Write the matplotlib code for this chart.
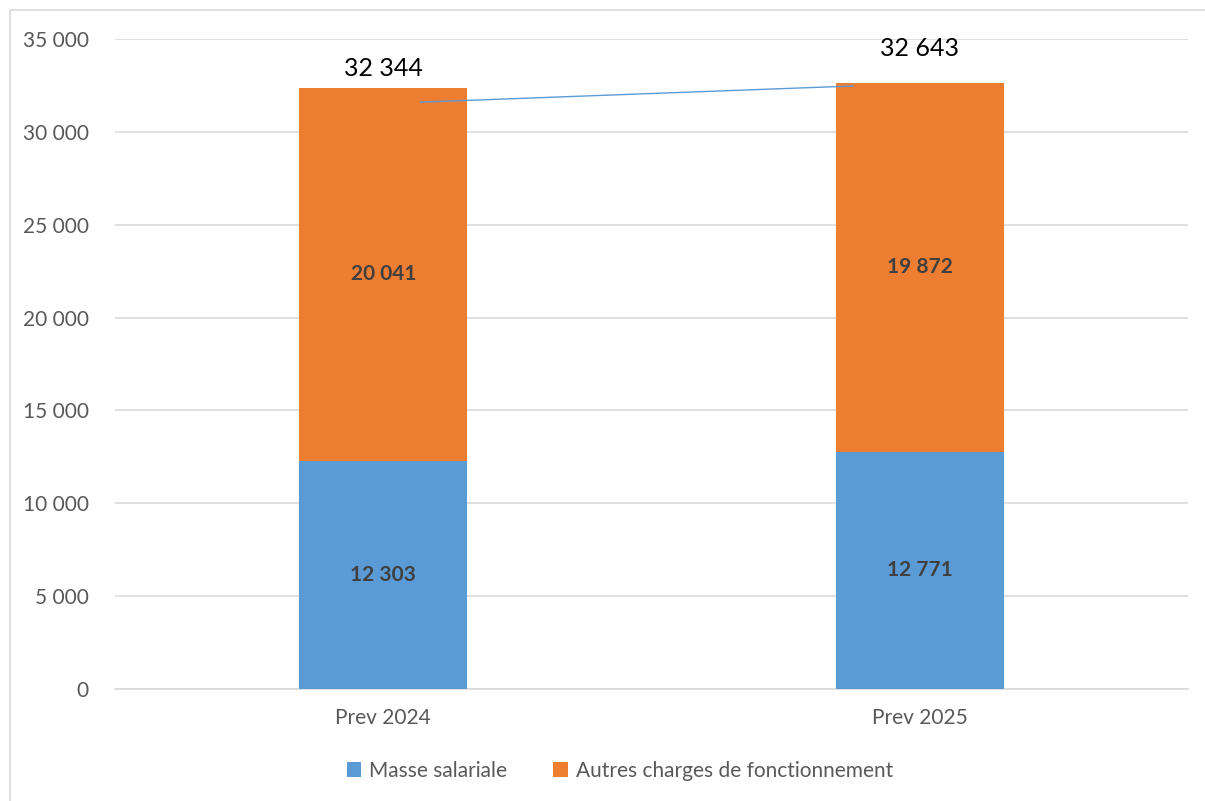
import matplotlib.pyplot as plt
from matplotlib.patches import Rectangle

categories = ["Prev 2024", "Prev 2025"]
masse_salariale = [12303, 12771]
autres_charges = [20041, 19872]
totals = [32344, 32643]
total_offsets = [20, 34]  # px above bar top, as in the source
# thin leftover line drawn across the chart (x in category units, y in data units)
line_x = [0.069, 0.876]
line_y = [31600, 32470]

blue = "#5b9bd5"
orange = "#ed7d31"
grey_txt = "#595959"

plt.rcParams['font.family'] = ['Lato', 'DejaVu Sans']

fig = plt.figure(figsize=(12.05, 8.01), dpi=100)
ax = fig.add_axes([115 / 1205, 1 - 689 / 801, 1073 / 1205, 650 / 801])

# chart frame
fig.patches.append(Rectangle((10 / 1205, -0.05), 1.1, 1 - 10 / 801 + 0.05,
                             transform=fig.transFigure, fill=False,
                             edgecolor="#d9d9d9", linewidth=1.2))

x = list(range(len(categories)))
w = 0.313
ax.bar(x, masse_salariale, w, color=blue, label="Masse salariale", zorder=3)
ax.bar(x, autres_charges, w, bottom=masse_salariale, color=orange,
       label="Autres charges de fonctionnement", zorder=3)

ax.plot(line_x, line_y, color=blue, linewidth=1, zorder=4)


def fmt(v):
    return "{:,}".format(v).replace(",", " ")


for i in x:
    ax.text(i, masse_salariale[i] / 2, fmt(masse_salariale[i]), ha="center", va="center",
            fontsize=15, fontweight="bold", color="#404040", zorder=5)
    ax.text(i, masse_salariale[i] + autres_charges[i] / 2, fmt(autres_charges[i]),
            ha="center", va="center", fontsize=15, fontweight="bold", color="#404040", zorder=5)
    ax.annotate(fmt(totals[i]), (i, totals[i]), xytext=(0, total_offsets[i] * 0.72),
                textcoords="offset points", ha="center", va="center",
                fontsize=18, color="black")

ax.set_xlim(-0.5, 1.5)
ax.set_ylim(0, 35000)
ax.set_yticks(range(0, 35001, 5000))
ax.set_yticklabels([fmt(v) for v in range(0, 35001, 5000)])
ax.set_xticks(x)
ax.set_xticklabels(categories)
ax.grid(axis="y", color="#d9d9d9", linewidth=1.2, zorder=0)
ax.set_axisbelow(True)
for s in ["top", "right", "left"]:
    ax.spines[s].set_visible(False)
ax.spines["bottom"].set_color("#d9d9d9")
ax.spines["bottom"].set_linewidth(1.2)
ax.tick_params(axis="both", length=0, labelsize=15, colors=grey_txt)
ax.tick_params(axis="y", pad=19)
ax.tick_params(axis="x", pad=14)

fig.legend(loc="center", bbox_to_anchor=(620 / 1205, 1 - 771 / 801), ncol=2,
           frameon=False, fontsize=15, labelcolor=grey_txt, handlelength=0.7,
           handleheight=0.7, handletextpad=0.4, columnspacing=2.2)

fig.savefig("out.png", dpi=100)
